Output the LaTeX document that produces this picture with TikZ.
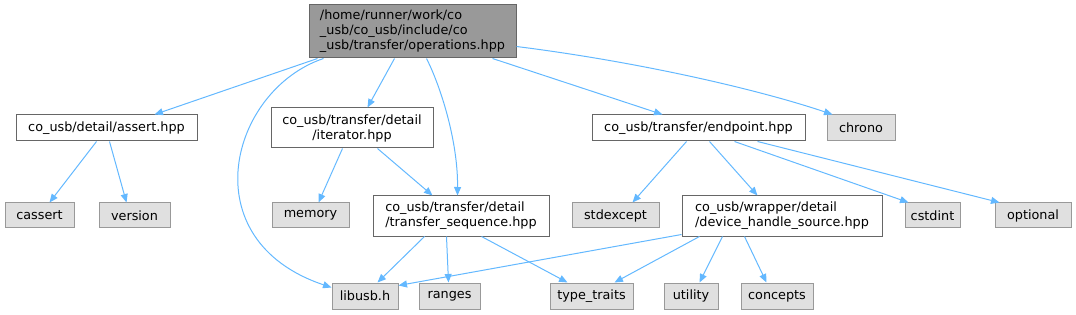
\documentclass[tikz,border=0pt]{standalone}
\usepackage{fontspec}
\setmainfont{DejaVu Sans}
\usetikzlibrary{arrows.meta}
\definecolor{edgeblue}{HTML}{63B8FF}
\definecolor{grayfill}{HTML}{E0E0E0}
\definecolor{grayline}{HTML}{999999}
\definecolor{darkline}{HTML}{666666}
\definecolor{mainfill}{HTML}{999999}
\tikzset{
  base/.style={draw, line width=1pt, inner sep=0pt, font=\fontsize{12.8}{15}\selectfont, text=black},
  filebox/.style={base, draw=darkline, fill=white},
  sysbox/.style={base, draw=grayline, fill=grayfill, minimum height=25pt},
  mainbox/.style={base, draw=darkline, fill=mainfill},
  dep/.style={draw=edgeblue, line width=1pt, -{Triangle[length=8.5pt,width=7pt]}}
}
\begin{document}
\begin{tikzpicture}[x=1pt,y=-1pt]
\useasboundingbox (0,0) rectangle (1076,315);
% nodes
\node[mainbox, minimum width=207pt, minimum height=53pt, align=left] (main) at (412.5,31.5)
  {/home/runner/work/co\\\_usb/co\_usb/include/co\\\_usb/transfer/operations.hpp};
\node[filebox, minimum width=181pt, minimum height=26pt] (assert) at (106.5,128) {co\_usb/detail/assert.hpp};
\node[sysbox, minimum width=69pt] (cassert) at (39.5,215.5) {cassert};
\node[sysbox, minimum width=71pt] (version) at (134.5,215.5) {version};
\node[filebox, minimum width=162pt, minimum height=40pt, align=center] (iterator) at (352,128) {co\_usb/transfer/detail\\/iterator.hpp};
\node[sysbox, minimum width=77pt] (memory) at (310.5,215.5) {memory};
\node[filebox, minimum width=176pt, minimum height=40pt, align=left] (ts) at (461,216) {co\_usb/transfer/detail\\/transfer\_sequence.hpp};
\node[sysbox, minimum width=87pt] (stdexcept) at (615.5,215.5) {stdexcept};
\node[filebox, minimum width=213pt, minimum height=26pt] (endpoint) at (698.5,128) {co\_usb/transfer/endpoint.hpp};
\node[sysbox, minimum width=68pt, minimum height=26pt] (chrono) at (861,128) {chrono};
\node[filebox, minimum width=200pt, minimum height=40pt, align=left] (dhs) at (782,216) {co\_usb/wrapper/detail\\/device\_handle\_source.hpp};
\node[sysbox, minimum width=55pt] (cstdint) at (932.5,215.5) {cstdint};
\node[sysbox, minimum width=76pt] (optional) at (1033,215.5) {optional};
\node[sysbox, minimum width=66pt, minimum height=26pt] (libusb) at (365,296) {libusb.h};
\node[sysbox, minimum width=61pt, minimum height=26pt] (ranges) at (449.5,296) {ranges};
\node[sysbox, minimum width=83pt, minimum height=26pt] (type) at (591.5,296) {type\_traits};
\node[sysbox, minimum width=54pt, minimum height=26pt] (utility) at (691,296) {utility};
\node[sysbox, minimum width=72pt, minimum height=26pt] (concepts) at (777,296) {concepts};
% edges from main
\draw[dep] ([xshift=9pt]main.south west) -- ([xshift=139pt]assert.north west);
\draw[dep] ([xshift=86pt]main.south west) -- ([xshift=97pt]iterator.north west);
\draw[dep] ([xshift=118pt]main.south west) .. controls (440,85) and (458,140) .. ([xshift=85pt]ts.north west);
\draw[dep] ([xshift=15pt]main.south west) .. controls (230,90) and (190,240) .. ([yshift=-5pt]libusb.north west);
\draw[dep] ([xshift=184pt]main.south west) -- ([xshift=71pt]endpoint.north west);
\draw[dep] ([yshift=12pt]main.south east) .. controls (640,62) and (760,90) .. ([xshift=6pt]chrono.north west);
% assert
\draw[dep] ([xshift=81pt]assert.south west) -- ([xshift=45pt]cassert.north west);
\draw[dep] ([xshift=94pt]assert.south west) -- ([xshift=28pt]version.north west);
% iterator
\draw[dep] ([xshift=72pt]iterator.south west) -- ([xshift=47pt]memory.north west);
\draw[dep] ([xshift=107pt]iterator.south west) -- ([xshift=60pt]ts.north west);
% transfer_sequence
\draw[dep] ([xshift=52pt]ts.south west) -- ([xshift=46pt]libusb.north west);
\draw[dep] ([xshift=74pt]ts.south west) -- ([xshift=30pt]ranges.north west);
\draw[dep] ([xshift=109pt]ts.south west) -- ([xshift=18pt]type.north west);
% device_handle_source
\draw[dep] ([yshift=2pt]dhs.south west) -- ([yshift=-3pt]libusb.north east);
\draw[dep] ([xshift=18pt]dhs.south west) -- ([xshift=65pt]type.north west);
\draw[dep] ([xshift=41pt]dhs.south west) -- ([xshift=36pt]utility.north west);
\draw[dep] ([xshift=63pt]dhs.south west) -- ([xshift=26pt]concepts.north west);
% endpoint
\draw[dep] ([xshift=95pt]endpoint.south west) -- ([xshift=61pt]stdexcept.north west);
\draw[dep] ([xshift=118pt]endpoint.south west) -- ([xshift=76pt]dhs.north west);
\draw[dep] ([xshift=143pt]endpoint.south west) -- ([xshift=4pt]cstdint.north west);
\draw[dep] ([xshift=166pt]endpoint.south west) -- ([xshift=5pt]optional.north west);
\end{tikzpicture}
\end{document}
